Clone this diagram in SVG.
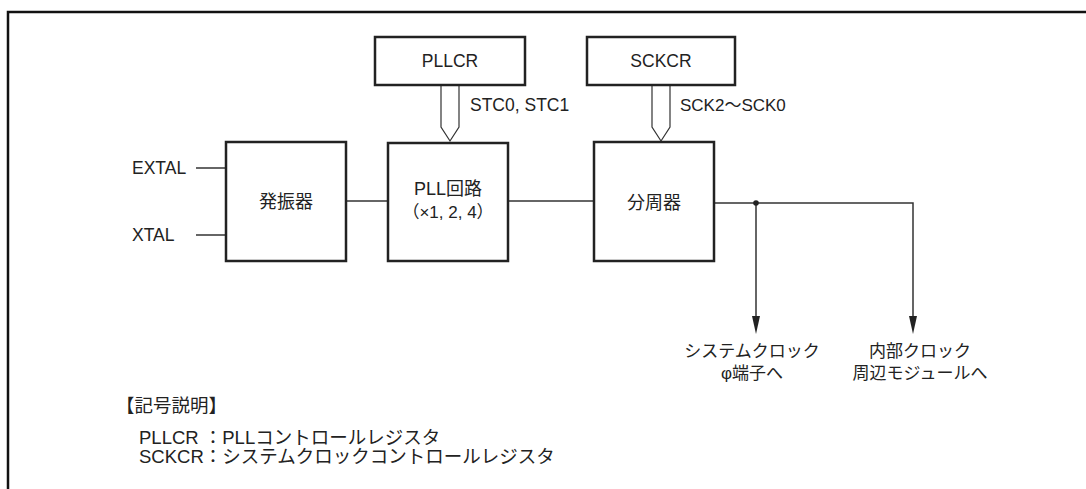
<svg xmlns="http://www.w3.org/2000/svg" width="1086" height="489" viewBox="0 0 1086 489">
<style>
.box{fill:#fff;stroke:#222;stroke-width:2.5}
.ln{fill:none;stroke:#333;stroke-width:1.5}
.bus{fill:#fff;stroke:#333;stroke-width:1.2}
.t{font-family:"Liberation Sans","Noto Sans CJK JP",sans-serif;font-size:17.5px;fill:#222}
.j{font-family:"Liberation Sans","Noto Sans CJK JP",sans-serif;font-size:17px;fill:#222}
.b{font-family:"Liberation Sans","Noto Sans CJK JP",sans-serif;font-size:18px;fill:#222}
.l{font-family:"Liberation Sans","Noto Sans CJK JP",sans-serif;font-size:18.5px;fill:#222}
.m{text-anchor:middle}
</style>
<rect width="1086" height="489" fill="#fff"/>
<path d="M8,489 V12 H1086" fill="none" stroke="#111" stroke-width="2.5"/>
<g id="connectors">
<path class="ln" d="M196,168 H226"/>
<path class="ln" d="M196,235 H226"/>
<path class="ln" d="M346,201 H388"/>
<path class="ln" d="M508,201 H594"/>
<path class="ln" d="M714,203 H913 V324"/>
<path d="M909,316 L917,316 L913,334 Z" fill="#222"/>
<path class="ln" d="M756,203 V324"/>
<path d="M752,316 L760,316 L756,334 Z" fill="#222"/>
<circle cx="756" cy="203" r="2.8" fill="#222"/>
<path class="bus" d="M441,85 V127 L450,141 L459,127 V85"/>
<path class="bus" d="M652,85 V127 L661,141 L670,127 V85"/>
<text class="t" x="470" y="111">STC0, STC1</text>
<text class="j" x="680" y="111">SCK2～SCK0</text>
</g>
<g id="extal"><text class="t" x="132" y="174">EXTAL</text></g>
<g id="xtal"><text class="t" x="132" y="241">XTAL</text></g>
<g id="pllcr"><rect class="box" x="375" y="37" width="150" height="48"/><text class="t m" x="450" y="67">PLLCR</text></g>
<g id="sckcr"><rect class="box" x="587" y="37" width="148" height="48"/><text class="t m" x="661" y="67">SCKCR</text></g>
<g id="osc"><rect class="box" x="226" y="142" width="120" height="119"/><text class="b m" x="286" y="208">発振器</text></g>
<g id="pll"><rect class="box" x="388" y="143" width="120" height="118"/><text class="b m" x="448" y="195">PLL回路</text><text class="j m" x="448" y="218">（×1, 2, 4）</text></g>
<g id="div"><rect class="box" x="594" y="142" width="120" height="119"/><text class="b m" x="654" y="209">分周器</text></g>
<g id="sysclk"><text class="j m" x="752" y="357">システムクロック</text><text class="j m" x="752" y="379">φ端子へ</text></g>
<g id="intclk"><text class="j m" x="920" y="357">内部クロック</text><text class="j m" x="920" y="379">周辺モジュールへ</text></g>
<g id="legend">
<text class="l" x="116" y="412">【記号説明】</text>
<text class="l" x="139" y="444">PLLCR ：PLLコントロールレジスタ</text>
<text class="l" x="139" y="463">SCKCR：システムクロックコントロールレジスタ</text>
</g>
</svg>
